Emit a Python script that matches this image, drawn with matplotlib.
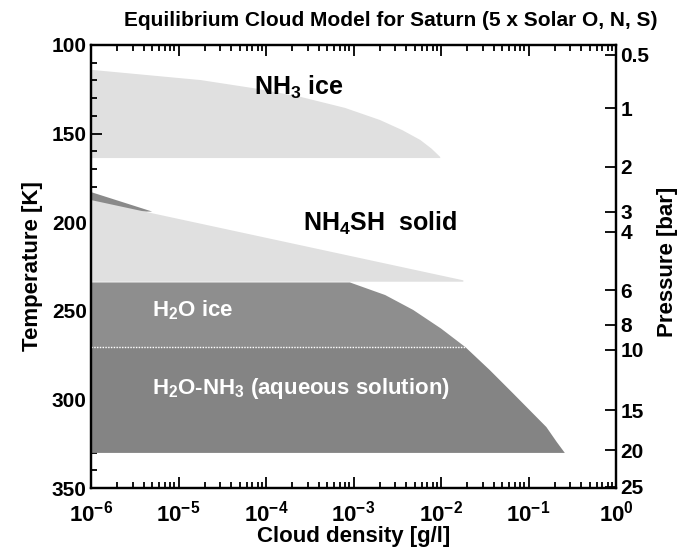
import matplotlib
matplotlib.use("Agg")
import matplotlib.pyplot as plt
import numpy as np

plt.rcParams['font.family'] = ['Liberation Sans', 'DejaVu Sans']
plt.rcParams['mathtext.fontset'] = 'custom'
plt.rcParams['mathtext.rm'] = 'Liberation Sans:bold'
plt.rcParams['mathtext.bf'] = 'Liberation Sans:bold'
plt.rcParams['mathtext.it'] = 'Liberation Sans:bold'
plt.rcParams['mathtext.default'] = 'bf'

# ---- data ----
title = "Equilibrium Cloud Model for Saturn (5 x Solar O, N, S)"

# NH3 ice: upper (cold) edge, density vs temperature, flat cloud base
nh3_T = [114.0, 119.8, 124.5, 129.3, 135.5, 142.3, 148.0, 153.6, 158.5, 163.2]
nh3_density = [1e-6, 1.8e-5, 7.5e-5, 2.5e-4, 8.0e-4, 2.0e-3, 3.6e-3, 5.8e-3, 7.8e-3, 9.8e-3]
nh3_base_T = 163.8

# NH4SH solid
nh4sh_T = [187.5, 232.8]
nh4sh_density = [1e-6, 1.8e-2]
nh4sh_base_T = 233.6

# dark wedge above NH4SH
wedge_T = [183.0, 194.0]
wedge_density = [1e-6, 5.0e-6]

# H2O ice
h2o_T = [234.0, 241.1, 249.5, 260.0, 270.5]
h2o_density = [9.1e-4, 2.3e-3, 4.8e-3, 1.0e-2, 1.9e-2]

# H2O-NH3 aqueous solution
aq_T = [270.5, 283.4, 296.4, 315.6, 324.0, 330.2]
aq_density = [1.9e-2, 3.6e-2, 6.6e-2, 1.6e-1, 2.1e-1, 2.6e-1]

# right axis: pressure labels at temperature positions
pressure_labels = ["0.5", "1", "2", "3", "4", "6", "8", "10", "15", "20", "25"]
pressure_T = [105.6, 135.6, 168.8, 194.2, 205.5, 238.3, 258.0, 272.1, 306.0, 328.6, 349.4]

x_ticks = [1e-6, 1e-5, 1e-4, 1e-3, 1e-2, 1e-1, 1e0]
x_ticklabels = [r"$\mathbf{10^{-6}}$", r"$\mathbf{10^{-5}}$", r"$\mathbf{10^{-4}}$",
                r"$\mathbf{10^{-3}}$", r"$\mathbf{10^{-2}}$", r"$\mathbf{10^{-1}}$",
                r"$\mathbf{10^{0}}$"]
y_ticks = [100, 150, 200, 250, 300, 350]

light = '#e0e0e0'
ice_col = '#8e8e8e'
aq_col = '#848484'
wedge_col = '#8a8a8a'

fig = plt.figure(figsize=(6.8, 5.5), dpi=100)
ax = fig.add_axes([91/680, 1 - 488/550, (616-91)/680, (488-45)/550])

xmin = 1e-6

def region(T, dens, base_T=None, color='k', z=1):
    Ts = list(T)
    ds = list(dens)
    if base_T is not None:
        Ts = Ts + [base_T]
        ds = ds + [dens[-1]]
    polyT = [Ts[0]] + Ts + [Ts[-1]]
    polyX = [xmin] + ds + [xmin]
    ax.fill(polyX, polyT, color=color, lw=0, zorder=z)

region(nh3_T, nh3_density, base_T=nh3_base_T, color=light)
region(wedge_T, wedge_density, color=wedge_col, z=1)
region(nh4sh_T, nh4sh_density, base_T=nh4sh_base_T, color=light, z=2)
region(h2o_T, h2o_density, color=ice_col, z=2)
region(aq_T, aq_density, color=aq_col, z=2)
ax.plot([xmin, aq_density[0]], [aq_T[0], aq_T[0]], color='white', lw=1.0,
        ls=(0, (1, 1)), zorder=3)

ax.set_xscale('log')
ax.set_xlim(1e-6, 1e0)
ax.set_ylim(350, 100)
ax.set_xticks(x_ticks)
ax.set_xticklabels(x_ticklabels, fontsize=16)
ax.set_yticks(y_ticks)
ax.set_yticklabels([str(v) for v in y_ticks], fontsize=15, fontweight='bold')
ax.set_yticks(np.arange(100, 351, 10), minor=True)
ax.tick_params(which='both', direction='in', top=True, right=False, width=1.3)
ax.tick_params(which='major', length=8)
ax.tick_params(axis='y', which='major', pad=3)
ax.tick_params(axis='x', which='major', pad=9)
ax.tick_params(which='minor', length=4)
for s in ax.spines.values():
    s.set_linewidth(1.6)

ax.set_xlabel("Cloud density [g/l]", fontsize=16, fontweight='bold', labelpad=0)
ax.set_ylabel("Temperature [K]", fontsize=16, fontweight='bold', labelpad=6)

ax2 = ax.twinx()
ax2.set_ylim(350, 100)
ax2.set_yticks(pressure_T)
ax2.set_yticklabels(pressure_labels, fontsize=15, fontweight='bold')
ax2.tick_params(direction='in', length=8, width=1.3, pad=3)
for s in ax2.spines.values():
    s.set_linewidth(1.6)
fig.text(667/680, 1 - 262/550, "Pressure [bar]", fontsize=16, fontweight='bold',
         rotation=90, ha='center', va='center')

ax.text(2.4e-4, 123.7, r"NH$_3$ ice", fontsize=18, fontweight='bold',
        ha='center', va='center', zorder=5)
ax.text(2.0e-3, 200.5, r"NH$_4$SH  solid", fontsize=18, fontweight='bold',
        ha='center', va='center', zorder=5)
ax.text(5.0e-6, 249.5, r"H$_2$O ice", fontsize=16, fontweight='bold',
        color='white', ha='left', va='center', zorder=5)
ax.text(5.0e-6, 293.6, r"H$_2$O-NH$_3$ (aqueous solution)", fontsize=16,
        fontweight='bold', color='white', ha='left', va='center', zorder=5)

fig.text(391/680, 1 - 20/550, title, fontsize=15, fontweight='bold',
         ha='center', va='center')

fig.savefig("out.png", dpi=100)
